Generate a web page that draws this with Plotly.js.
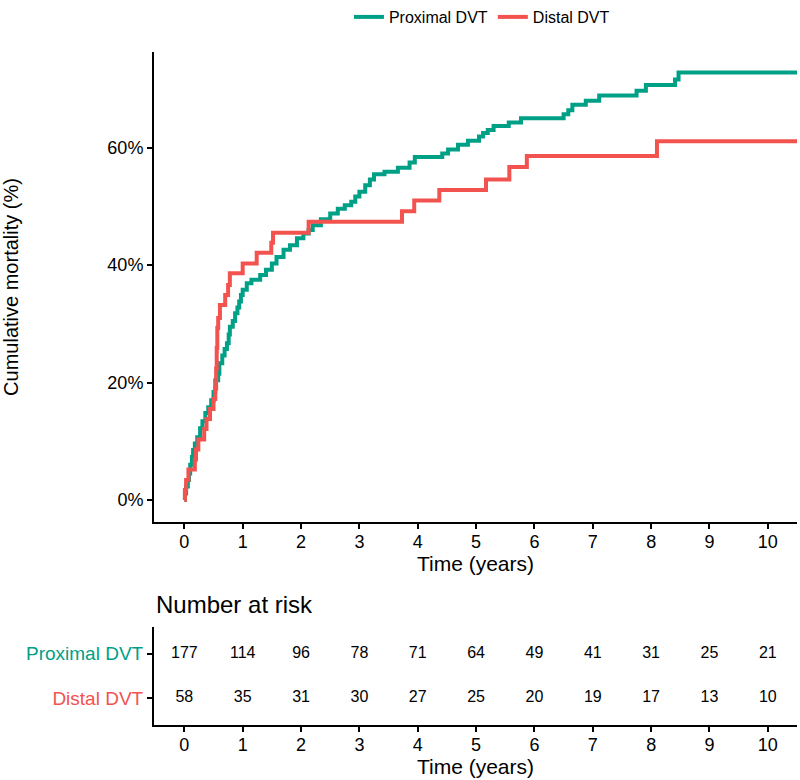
<!DOCTYPE html>
<html>
<head>
<meta charset="utf-8">
<script src="https://cdn.plot.ly/plotly-3.0.1.min.js"></script>
<style>html,body{margin:0;padding:0;background:#fff}#chart{width:800px;height:780px}</style>
</head>
<body>
<div id="chart"></div>
<script>
// ---- data ----
const groups = ['Proximal DVT', 'Distal DVT'];
const groupColors = ['#00A087', '#F2534F'];

const proxTime = [0,0.01,0.03,0.06,0.08,0.10,0.13,0.15,0.18,0.22,0.27,0.31,0.36,0.41,0.46,0.50,0.53,0.58,0.60,0.65,0.69,0.73,0.76,0.78,0.83,0.87,0.91,0.94,0.97,1.00,1.07,1.15,1.30,1.40,1.50,1.58,1.70,1.81,1.93,2.04,2.13,2.20,2.34,2.50,2.63,2.75,2.86,2.93,3.00,3.10,3.18,3.25,3.43,3.66,3.86,3.95,4.42,4.52,4.69,4.86,5.05,5.12,5.20,5.30,5.56,5.77,6.50,6.58,6.65,6.88,7.11,7.75,7.91,8.41,8.47,10.5];
const proxPct  = [0,1.1,2.3,3.4,4.5,6.0,7.3,8.5,9.6,10.7,12.2,13.4,14.8,15.8,17.0,18.4,20.4,21.5,23.3,24.6,25.7,26.7,28.2,29.5,30.5,31.8,32.8,33.8,34.9,35.8,36.9,37.5,38.3,39.2,40.3,41.4,42.6,43.4,44.6,45.4,46.0,46.8,47.8,48.8,49.6,50.2,50.8,51.7,52.5,53.6,54.6,55.5,55.9,56.6,57.5,58.4,59.0,59.7,60.5,61.2,61.9,62.5,63.0,63.7,64.3,65.0,65.7,66.4,67.3,68.0,68.9,69.7,70.7,71.6,72.8,72.8];

const distTime = [0,0.01,0.03,0.07,0.18,0.20,0.24,0.34,0.38,0.44,0.50,0.53,0.545,0.555,0.565,0.58,0.61,0.70,0.75,0.78,1.00,1.24,1.49,1.52,2.13,3.73,3.94,4.37,5.17,5.57,5.87,8.10,10.5];
const distPct  = [0,1.7,3.4,5.2,6.9,8.6,10.3,12.1,13.8,15.5,17.2,19.0,22.4,25.9,29.3,31.0,33.2,34.9,36.6,38.6,40.3,42.1,43.8,45.5,47.4,49.2,51.0,52.8,54.6,56.7,58.6,61.1,61.1];

const riskTimes = [0,1,2,3,4,5,6,7,8,9,10];
const riskProx  = [177,114,96,78,71,64,49,41,31,25,21];
const riskDist  = [58,35,31,30,27,25,20,19,17,13,10];

const xTicks = [0,1,2,3,4,5,6,7,8,9,10];
const yTicks = [0,20,40,60];
const yTickText = ['0%','20%','40%','60%'];

// ---- traces ----
const traces = [
  {x: proxTime, y: proxPct, name: groups[0], type: 'scatter', mode: 'lines',
   line: {shape: 'hv', color: groupColors[0], width: 4}, xaxis: 'x', yaxis: 'y', hoverinfo: 'x+y'},
  {x: distTime, y: distPct, name: groups[1], type: 'scatter', mode: 'lines',
   line: {shape: 'hv', color: groupColors[1], width: 4}, xaxis: 'x', yaxis: 'y', hoverinfo: 'x+y'},
  {x: riskTimes, y: riskTimes.map(() => groups[0]), text: riskProx.map(String), mode: 'text',
   type: 'scatter', textfont: {size: 16, color: '#000'}, showlegend: false, xaxis: 'x2', yaxis: 'y2', hoverinfo: 'text'},
  {x: riskTimes, y: riskTimes.map(() => groups[1]), text: riskDist.map(String), mode: 'text',
   type: 'scatter', textfont: {size: 16, color: '#000'}, showlegend: false, xaxis: 'x2', yaxis: 'y2', hoverinfo: 'text'}
];

const axisCommon = {
  showline: true, linewidth: 2, linecolor: '#000', ticks: 'outside', ticklen: 5, tickwidth: 2,
  tickcolor: '#000', showgrid: false, zeroline: false, automargin: false
};

const layout = {
  width: 800, height: 780,
  margin: {l: 154, r: 3, t: 0, b: 0},
  paper_bgcolor: '#fff', plot_bgcolor: '#fff',
  font: {family: '"Liberation Sans", Arial, sans-serif', color: '#000'},
  showlegend: true,
  legend: {orientation: 'h', x: 0.51, xanchor: 'center', y: 1.0, yanchor: 'top',
           font: {size: 16}, itemwidth: 30, tracegroupgap: 0},
  xaxis: Object.assign({}, axisCommon, {
    anchor: 'y', domain: [0, 1], range: [-0.52, 10.5], tickvals: xTicks,
    tickfont: {size: 18}, ticklabelstandoff: -3,
    title: {text: 'Time (years)', font: {size: 21}, standoff: 3}
  }),
  yaxis: Object.assign({}, axisCommon, {
    anchor: 'x', domain: [0.3308, 0.9333], range: [-3.75, 76.3], tickvals: yTicks,
    ticktext: yTickText, tickfont: {size: 18},
    title: {text: 'Cumulative mortality (%)', font: {size: 20}, standoff: 96}
  }),
  xaxis2: Object.assign({}, axisCommon, {
    anchor: 'y2', domain: [0, 1], range: [-0.52, 10.5], tickvals: xTicks,
    tickfont: {size: 18}, ticklabelstandoff: -3,
    title: {text: 'Time (years)', font: {size: 21}, standoff: 3}
  }),
  yaxis2: Object.assign({}, axisCommon, {
    anchor: 'x2', domain: [0.0705, 0.1962], type: 'category',
    categoryorder: 'array', categoryarray: [groups[1], groups[0]], range: [-0.6, 1.6],
    tickvals: groups,
    ticktext: groups.map((g, i) => '<span style="color:' + groupColors[i] + '">' + g + '</span>'),
    tickfont: {size: 19}
  }),
  annotations: [{
    text: 'Number at risk', xref: 'paper', yref: 'paper', x: 0, y: 0.2256,
    xanchor: 'left', yanchor: 'middle', showarrow: false, font: {size: 24, color: '#000'}
  }]
};

Plotly.newPlot('chart', traces, layout, {displayModeBar: false, staticPlot: true});
</script>
</body>
</html>
